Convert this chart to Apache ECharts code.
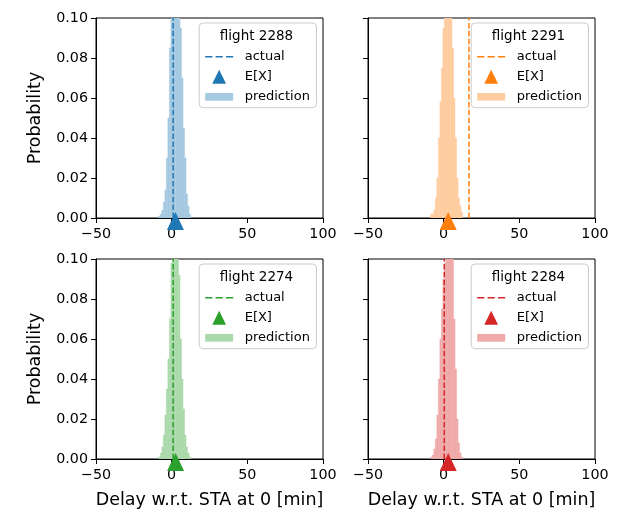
<!DOCTYPE html>
<html>
<head>
<meta charset="utf-8">
<script src="https://cdn.jsdelivr.net/npm/echarts@6/dist/echarts.min.js"></script>
<style>html,body{margin:0;padding:0;background:#fff;}#chart{width:622px;height:516px;}</style>
</head>
<body>
<div id="chart"></div>
<script>
// ---- data ----
const flights = ['2288', '2291', '2274', '2284'];
const binCenters = [-8, -7, -6, -5, -4, -3, -2, -1, 0, 1, 2, 3, 4, 5, 6, 7, 8, 9, 10, 11, 12];
const probs2288 = [0.001, 0.002, 0.004, 0.008, 0.014, 0.03, 0.05, 0.085, 0.12, 0.15, 0.16, 0.15, 0.13, 0.115, 0.095, 0.07, 0.045, 0.03, 0.012, 0.006, 0.002];
const probs2291 = [0.002, 0.002, 0.004, 0.01, 0.02, 0.04, 0.058, 0.075, 0.095, 0.12, 0.15, 0.16, 0.14, 0.11, 0.085, 0.06, 0.04, 0.02, 0.01, 0.006, 0.003];
const probs2274 = [0.001, 0.003, 0.006, 0.012, 0.022, 0.035, 0.05, 0.07, 0.098, 0.13, 0.16, 0.17, 0.14, 0.092, 0.06, 0.04, 0.025, 0.012, 0.006, 0.003, 0.001];
const probs2284 = [0.001, 0.002, 0.005, 0.01, 0.022, 0.04, 0.06, 0.075, 0.09, 0.098, 0.13, 0.16, 0.16, 0.13, 0.1, 0.07, 0.045, 0.02, 0.008, 0.003, 0.001];
const actualDelays = [1.0, 16.7, 1.0, 0.4];
const expectedDelays = [2.5, 3.0, 2.6, 3.0];
const xTicks = [-50, 0, 50, 100];
const yTicks = [0, 0.02, 0.04, 0.06, 0.08, 0.10];
const binWidth = 1;

// ---- styling ----
const probsAll = [probs2288, probs2291, probs2274, probs2284];
const darkColors = ['#1f77b4', '#ff7f0e', '#2ca02c', '#d62728'];
const lightColors = ['#a5c9e1', '#ffcc9f', '#abd9ab', '#efa9a9'];
const FONT = 'DejaVu Sans';
const DASH_ICON = 'path://M0 0H7.2V1.6H0Z M10.4 0H17.6V1.6H10.4Z M20.8 0H28V1.6H20.8Z';
const TRI_ICON = 'path://M6.6 0L13.2 13.4H0Z';
const RECT_ICON = 'path://M0 0H28V7.7H0Z';
const grids = [
  {left: 96, top: 18, width: 227, height: 200},
  {left: 368, top: 18, width: 227, height: 200},
  {left: 96, top: 259, width: 227, height: 200},
  {left: 368, top: 259, width: 227, height: 200}
];

const xAxes = [], yAxes = [], series = [], legends = [], graphics = [];
grids.forEach((g, i) => {
  const isLeft = i % 2 === 0, isBottom = i >= 2;
  xAxes.push({
    type: 'value', gridIndex: i, min: xTicks[0], max: xTicks[xTicks.length - 1],
    interval: xTicks[1] - xTicks[0],
    axisLine: {show: true, onZero: false, lineStyle: {color: '#000', width: 1}},
    axisTick: {show: true, length: 5, lineStyle: {color: '#000', width: 1}},
    axisLabel: {fontSize: 14.3, color: '#000', fontFamily: FONT, margin: 9,
      formatter: v => String(v).replace('-', '\u2212')},
    splitLine: {show: false},
    name: isBottom ? 'Delay w.r.t. STA at 0 [min]' : '',
    nameLocation: 'middle', nameGap: 32,
    nameTextStyle: {fontSize: 17.5, color: '#000', fontFamily: FONT}
  });
  yAxes.push({
    type: 'value', gridIndex: i, min: yTicks[0], max: yTicks[yTicks.length - 1],
    interval: yTicks[1] - yTicks[0],
    axisLine: {show: true, onZero: false, lineStyle: {color: '#000', width: 1}},
    axisTick: {show: true, length: 5, lineStyle: {color: '#000', width: 1}},
    axisLabel: {show: isLeft, fontSize: 14.3, color: '#000', fontFamily: FONT, margin: 8,
      formatter: v => v.toFixed(2)},
    splitLine: {show: false},
    name: isLeft ? 'Probability' : '',
    nameLocation: 'middle', nameGap: 52,
    nameTextStyle: {fontSize: 17.5, color: '#000', fontFamily: FONT}
  });
  const probs = probsAll[i];
  series.push({
    name: 'prediction|' + i, type: 'custom', xAxisIndex: i, yAxisIndex: i, clip: true, z: 2,
    data: binCenters.map((c, k) => [c, probs[k]]),
    itemStyle: {color: lightColors[i]},
    renderItem: (params, api) => {
      const x = api.value(0), y = api.value(1);
      const p0 = api.coord([x - binWidth / 2, y]);
      const p1 = api.coord([x + binWidth / 2, 0]);
      return {type: 'rect', shape: {x: p0[0], y: p0[1], width: p1[0] - p0[0], height: p1[1] - p0[1]},
        style: {fill: lightColors[i], stroke: lightColors[i], lineWidth: 0.5}};
    }
  });
  series.push({
    name: 'actual|' + i, type: 'line', xAxisIndex: i, yAxisIndex: i, z: 3,
    data: [[actualDelays[i], yTicks[0]], [actualDelays[i], yTicks[yTicks.length - 1]]],
    symbol: 'none', silent: true,
    itemStyle: {color: darkColors[i]},
    lineStyle: {color: darkColors[i], width: 1.5, type: [5.5, 2.4]}
  });
  series.push({
    name: 'E[X]|' + i, type: 'scatter', xAxisIndex: i, yAxisIndex: i, z: 5, clip: false,
    data: [[expectedDelays[i], 0]],
    symbol: 'triangle', symbolSize: [17, 18], symbolOffset: [0, 3],
    itemStyle: {color: darkColors[i], opacity: 1}
  });
  const boxRight = g.left + g.width - 6.5;
  const boxTop = g.top + 5;
  legends.push({
    data: [
      {name: 'actual|' + i, icon: DASH_ICON, itemStyle: {color: darkColors[i]}},
      {name: 'E[X]|' + i, icon: TRI_ICON},
      {name: 'prediction|' + i, icon: RECT_ICON}
    ],
    orient: 'vertical', right: 622 - boxRight, top: boxTop,
    itemWidth: 28, itemHeight: 14, itemGap: 6.5,
    padding: [27.3, 6.6, 4.4, 6],
    borderColor: '#cccccc', borderWidth: 1, borderRadius: 4,
    backgroundColor: 'rgba(255,255,255,0.8)',
    textStyle: {fontSize: 13, color: '#000', fontFamily: FONT, padding: [0, 0, 0, 6.5]},
    formatter: n => n.split('|')[0],
    selectedMode: false
  });
  graphics.push({
    type: 'text', z: 100, x: boxRight - 60, y: boxTop + 13.3,
    style: {text: 'flight ' + flights[i], fontSize: 13.5, fontFamily: FONT, fill: '#000',
      textAlign: 'center', textVerticalAlign: 'middle'}
  });
});

const chart = echarts.init(document.getElementById('chart'), null, {renderer: 'canvas'});
chart.setOption({
  animation: false,
  backgroundColor: '#fff',
  textStyle: {fontFamily: FONT},
  grid: grids.map(g => Object.assign({show: true, borderColor: '#000', borderWidth: 1, backgroundColor: 'transparent'}, g)),
  xAxis: xAxes,
  yAxis: yAxes,
  legend: legends,
  series: series,
  graphic: graphics
});
</script>
</body>
</html>
